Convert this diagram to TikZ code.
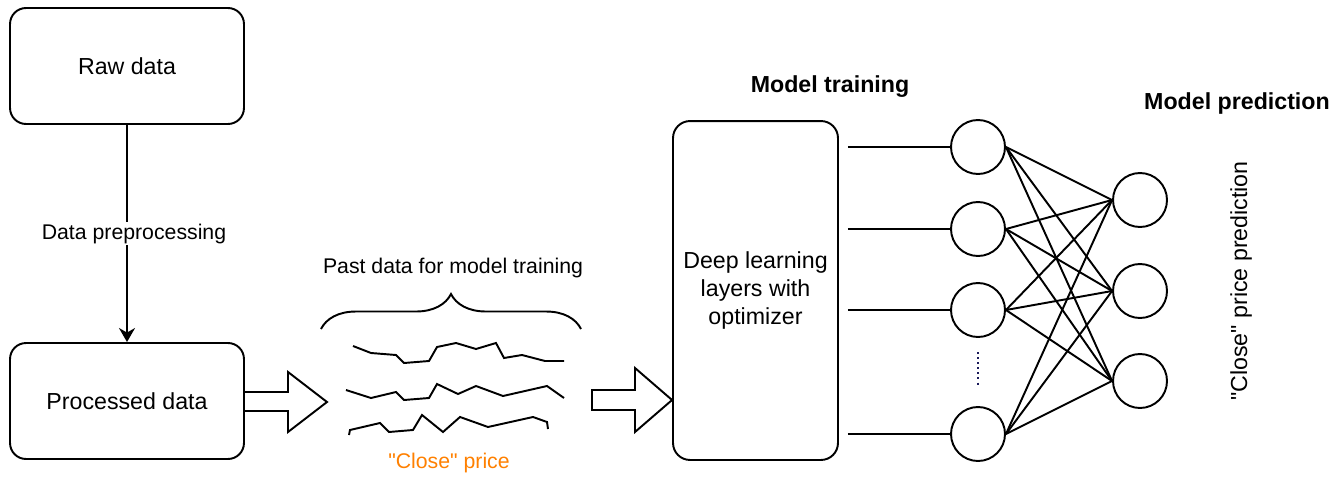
\documentclass[tikz,border=0pt]{standalone}
\usepackage{fontspec}
\setmainfont{Liberation Sans}[Ligatures=TeXOff]
\usetikzlibrary{calc,arrows.meta,decorations.pathreplacing}
\definecolor{naranja}{HTML}{FF8000}
\definecolor{puntos}{HTML}{1A1A5A}
\begin{document}
\begin{tikzpicture}[x=0.02cm, y=-0.02cm, line width=1.1pt,
  >={Stealth[length=2.8mm, width=3.2mm, inset=0.9mm]},
  every node/.style={font=\fontsize{13.2}{16.2}\selectfont},
  chico/.style={font=\fontsize{12.1}{14}\selectfont},
  titulo/.style={font=\fontsize{13.2}{16}\selectfont\bfseries},
  caja/.style={draw, rounded corners=0.32cm, minimum width=4.68cm, minimum height=2.32cm, align=center},
  neurona/.style={draw, circle, minimum size=1.08cm, inner sep=0pt},
  serie/.style={line width=1.1pt, line join=miter}]
\useasboundingbox (0,0) rectangle (1335,477);
\node[caja] (raw)  at (127,66)  {Raw data};
\node[caja] (proc) at (127,401) {Processed data};
\draw[->] (raw) -- node[chico, fill=white, inner sep=1pt, xshift=0.14cm] {Data preprocessing} (proc);
\draw (proc.east |- 0,392) -- (288,392) -- (288,372) -- (327,402) -- (288,432) -- (288,411) -- (proc.east |- 0,411);
\draw[decorate, decoration={brace, amplitude=0.7cm}] (321,329) -- (581,329);
\node[chico] (pasado) at (453,268) {Past data for model training};
\draw[serie] (353,346) -- (371,353) -- (396,355) -- (404,363) -- (429,361) -- (437,347) -- (456,343) -- (476,349) -- (496,343) -- (504,358) -- (522,355) -- (545,361) -- (564,361);
\draw[serie] (346,390) -- (371,398) -- (396,392) -- (404,400) -- (429,398) -- (437,384) -- (458,394) -- (476,386) -- (503,396) -- (547,386) -- (564,398);
\draw[serie] (349,435) -- (350,430) -- (380,423) -- (389,432) -- (413,430) -- (422,415) -- (443,432) -- (460,417) -- (488,427) -- (533,417) -- (547,422) -- (548,429);
\node[chico, text=naranja] (cierre) at (449,463) {"Close" price};
\node[caja, rounded corners=0.34cm, minimum width=3.3cm, minimum height=6.78cm] (deep) at (755.5,290.5) {Deep learning\\layers with\\optimizer};
\draw (592,390) -- (635,390) -- (635,368) -- (deep.west |- 0,400) -- (635,432) -- (635,410) -- (592,410) -- cycle;
\node[titulo] (entren) at (830,87) {Model training};
\node[neurona] (h1) at (978,147) {};
\node[neurona] (h2) at (978,229) {};
\node[neurona] (h3) at (978,310) {};
\node[neurona] (h4) at (978,434) {};
\node[neurona] (o1) at (1140,200) {};
\node[neurona] (o2) at (1140,291) {};
\node[neurona] (o3) at (1140,381) {};
\foreach \i in {1,...,4}
  \draw ($(deep.east |- h\i)+(9,0)$) -- (h\i.west);
\foreach \i in {1,...,4}
  \foreach \j in {1,2,3}
    \draw (h\i.east) -- (o\j.west);
\draw[puntos, line width=1.3pt, dash pattern=on 1.1pt off 1.8pt] (978,352) -- (978,387);
\node[titulo] (predic) at (1237,104) {Model prediction};
\node[rotate=90] (salida) at (1241,281) {"Close" price prediction};
\end{tikzpicture}
\end{document}
